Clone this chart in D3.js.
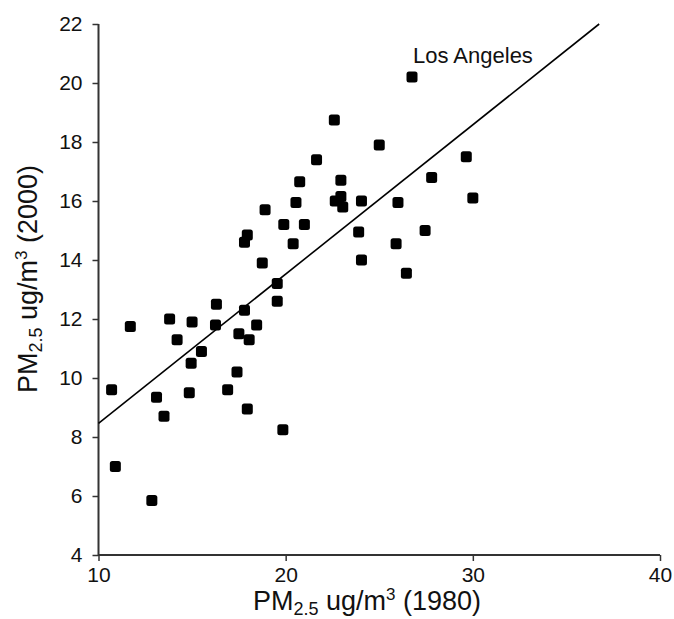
<!DOCTYPE html>
<html>
<head>
<meta charset="utf-8">
<script src="https://cdn.jsdelivr.net/npm/d3@7/dist/d3.min.js"></script>
<style>
  html, body { margin: 0; padding: 0; background: #fff; }
  svg { display: block; font-family: "Liberation Sans", Arial, Helvetica, sans-serif; }
</style>
</head>
<body>
<svg id="chart" width="674" height="619"></svg>
<script>
// PM2.5 in 1980 (x) vs 2000 (y), ug/m3
const pm1980 = [10.7, 10.9, 11.7, 12.85, 13.1, 13.5, 13.8, 14.2, 14.85, 14.95, 15.0, 15.5, 16.3, 16.25, 16.9, 17.4, 17.5, 17.8, 18.05, 17.95, 18.45, 19.55, 19.85, 19.55, 18.75, 17.8, 17.95, 18.9, 19.9, 20.4, 20.55, 20.75, 21.0, 21.65, 22.6, 22.65, 22.95, 22.95, 23.05, 24.05, 23.9, 24.05, 25.0, 26.0, 25.9, 26.45, 26.75, 27.45, 27.8, 29.65, 30.0];
const pm2000 = [9.6, 7.0, 11.75, 5.85, 9.35, 8.7, 12.0, 11.3, 9.5, 10.5, 11.9, 10.9, 12.5, 11.8, 9.6, 10.2, 11.5, 12.3, 11.3, 8.95, 11.8, 12.6, 8.25, 13.2, 13.9, 14.6, 14.85, 15.7, 15.2, 14.55, 15.95, 16.65, 15.2, 17.4, 18.75, 16.0, 16.7, 16.15, 15.8, 16.0, 14.95, 14.0, 17.9, 15.95, 14.55, 13.55, 20.2, 15.0, 16.8, 17.5, 16.1];
const trendX = [10, 36.75];
const trendY = [8.46, 22];
const xTicks = [10, 20, 30, 40];
const yTicks = [4, 6, 8, 10, 12, 14, 16, 18, 20, 22];
const labelText = "Los Angeles";
const labelPoint = [26.75, 20.2];

const svg = d3.select("#chart");
const mLeft = 98.5, mRight = 660, mTop = 24, mBottom = 555;

const x = d3.scaleLinear().domain([10, 40]).range([mLeft, mRight]);
const y = d3.scaleLinear().domain([4, 22]).range([mBottom, mTop]);

const axisColor = "#333";

const xAxis = svg.append("g")
  .attr("transform", `translate(0,${mBottom})`)
  .call(d3.axisBottom(x).tickValues(xTicks).tickSize(6).tickPadding(6).tickFormat(d3.format("d")));
const yAxis = svg.append("g")
  .attr("transform", `translate(${mLeft},0)`)
  .call(d3.axisLeft(y).tickValues(yTicks).tickSize(6).tickPadding(10).tickFormat(d3.format("d")));

[xAxis, yAxis].forEach(g => {
  g.select(".domain").attr("stroke", axisColor).attr("stroke-width", 2);
  g.selectAll(".tick line").attr("stroke", axisColor).attr("stroke-width", 1.5);
  g.selectAll(".tick text").attr("fill", "#111").style("font-size", "21px")
    .style("font-family", "'Liberation Sans', Arial, sans-serif");
});
xAxis.select(".domain").attr("d", `M${mLeft},0H${mRight}`);
yAxis.select(".domain").attr("d", `M0,${y(4) + 1}V${mTop}`);

// trend line
svg.append("line")
  .attr("x1", x(trendX[0])).attr("y1", y(trendY[0]))
  .attr("x2", x(trendX[1])).attr("y2", y(trendY[1]))
  .attr("stroke", "#000").attr("stroke-width", 1.6);

// points
const sz = 11;
svg.append("g").selectAll("rect")
  .data(pm1980.map((v, i) => [v, pm2000[i]]))
  .join("rect")
  .attr("x", d => x(d[0]) - sz / 2)
  .attr("y", d => y(d[1]) - sz / 2)
  .attr("width", sz).attr("height", sz)
  .attr("rx", 2.5).attr("ry", 2.5)
  .attr("fill", "#000");

// label
svg.append("text")
  .attr("x", x(labelPoint[0]) + 1)
  .attr("y", y(labelPoint[1]) - 14)
  .attr("text-anchor", "start")
  .style("font-size", "22px")
  .attr("fill", "#111")
  .text(labelText);

// axis titles
function title(sel, year) {
  sel.append("tspan").text("PM");
  sel.append("tspan").attr("dy", 5).style("font-size", "18px").text("2.5");
  sel.append("tspan").attr("dy", -5).text(" ug/m");
  sel.append("tspan").attr("dy", -10).style("font-size", "17px").text("3");
  sel.append("tspan").attr("dy", 10).text(" (" + year + ")");
}
const xt = svg.append("text")
  .attr("x", 367).attr("y", 610)
  .attr("text-anchor", "middle")
  .style("font-size", "27px").attr("fill", "#111");
title(xt, "1980");

const yt = svg.append("text")
  .attr("transform", `translate(37,279) rotate(-90)`)
  .attr("text-anchor", "middle")
  .style("font-size", "27px").attr("fill", "#111");
title(yt, "2000");
</script>
</body>
</html>
